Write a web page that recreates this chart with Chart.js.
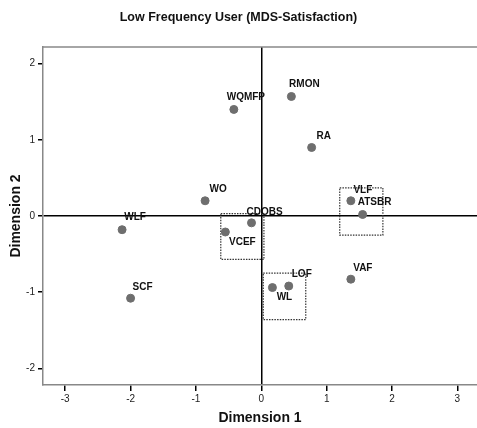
<!DOCTYPE html>
<html>
<head>
<meta charset="utf-8">
<script src="https://cdn.jsdelivr.net/npm/chart.js@4"></script>
<style>
  body { margin: 0; background: #fff; }
  #wrap { width: 477px; height: 428px; }
</style>
</head>
<body>
<div id="wrap"><canvas id="mdsChart"></canvas></div>
<script>
// data
const names = ["WQMFP", "RMON", "RA", "WO", "WLF", "CDOBS", "VCEF", "VLF", "ATSBR", "VAF", "LOF", "WL", "SCF"];
const dim1 = [-0.42, 0.46, 0.77, -0.86, -2.13, -0.15, -0.55, 1.37, 1.55, 1.37, 0.42, 0.17, -2.0];
const dim2 = [1.40, 1.57, 0.90, 0.20, -0.18, -0.09, -0.21, 0.20, 0.02, -0.83, -0.92, -0.94, -1.08];
const xTicks = [-3, -2, -1, 0, 1, 2, 3];
const yTicks = [-2, -1, 0, 1, 2];

// dashed groupings: [x1, x2, y1, y2]
const boxes = [
  [-0.62, 0.04, 0.03, -0.57],
  [1.20, 1.86, 0.37, -0.25],
  [0.03, 0.68, -0.75, -1.36]
];

// label placement (pixels from point)
const labelOffsets = [
  [12, -12], [13, -12], [12, -11], [13, -12], [13, -12], [13, -11], [17, 10],
  [12, -11], [12, -12], [12, -11], [13, -12], [12, 10], [12, -11]
];

const FONT = "'Liberation Sans', Arial, sans-serif";

const points = names.map((n, i) => ({ x: dim1[i], y: dim2[i] }));

const boxSets = boxes.map(b => ({
  type: "line",
  data: [
    { x: b[0], y: b[2] }, { x: b[1], y: b[2] }, { x: b[1], y: b[3] },
    { x: b[0], y: b[3] }, { x: b[0], y: b[2] }
  ],
  borderColor: "#333",
  borderWidth: 1.2,
  borderDash: [1.5, 1.2],
  pointRadius: 0,
  fill: false,
  tension: 0,
}));

// Start label plugin
const pointLabels = {
  id: "pointLabels",
  afterDatasetsDraw(chart) {
    const ctx = chart.ctx;
    const meta = chart.getDatasetMeta(0);
    ctx.save();
    ctx.font = "bold 10px " + FONT;
    ctx.fillStyle = "#111";
    ctx.textAlign = "center";
    ctx.textBaseline = "middle";
    meta.data.forEach((pt, i) => {
      ctx.fillText(names[i], pt.x + labelOffsets[i][0], pt.y + labelOffsets[i][1]);
    });
    // top frame line
    const a = chart.chartArea;
    ctx.strokeStyle = "#888";
    ctx.lineWidth = 1.5;
    ctx.beginPath();
    ctx.moveTo(a.left, a.top);
    ctx.lineTo(a.right, a.top);
    ctx.stroke();
    ctx.restore();
  }
};
// End label plugin

const zeroLine = c => (c.tick && c.tick.value === 0 ? "#000" : "rgba(0,0,0,0)");

new Chart(document.getElementById("mdsChart"), {
  type: "scatter",
  data: {
    datasets: [
      {
        data: points,
        backgroundColor: "#6e6e6e",
        borderColor: "#6e6e6e",
        pointRadius: 4,
        pointHoverRadius: 4,
      },
      ...boxSets
    ],
  },
  plugins: [pointLabels],
  options: {
    responsive: true,
    maintainAspectRatio: false,
    animation: false,
    layout: { padding: 0, autoPadding: false },
    scales: {
      x: {
        type: "linear",
        min: -3.34,
        max: 3.3,
        afterBuildTicks: s => { s.ticks = xTicks.map(v => ({ value: v })); },
        afterFit: s => { s.height = 43; s.paddingLeft = 0; s.paddingRight = 0; },
        ticks: { font: { size: 10, family: FONT }, color: "#222", padding: 2, maxRotation: 0 },
        grid: { color: zeroLine, lineWidth: 1.5, tickColor: "#000", tickLength: 6 },
        border: { color: "#888", width: 1.5 },
        title: {
          display: true,
          text: "Dimension 1",
          font: { size: 14, weight: "bold", family: FONT },
          color: "#111",
          padding: { top: 2, bottom: 1 },
        },
      },
      y: {
        type: "linear",
        min: -2.22,
        max: 2.22,
        afterBuildTicks: s => { s.ticks = yTicks.map(v => ({ value: v })); },
        afterFit: s => { s.width = 43; s.paddingTop = 0; s.paddingBottom = 0; },
        ticks: { font: { size: 10, family: FONT }, color: "#222", padding: 3 },
        grid: { color: zeroLine, lineWidth: 1.5, tickColor: "#000", tickLength: 5 },
        border: { color: "#888", width: 1.5 },
        title: {
          display: true,
          text: "Dimension 2",
          font: { size: 14, weight: "bold", family: FONT },
          color: "#111",
          padding: { top: 8, bottom: 2 },
        },
      },
    },
    plugins: {
      legend: { display: false },
      tooltip: { enabled: false },
      title: {
        display: true,
        text: "Low Frequency User (MDS-Satisfaction)",
        font: { size: 12.5, weight: "bold", family: FONT },
        color: "#111",
        padding: { top: 10, bottom: 22 },
      },
    },
  },
});
</script>
</body>
</html>
